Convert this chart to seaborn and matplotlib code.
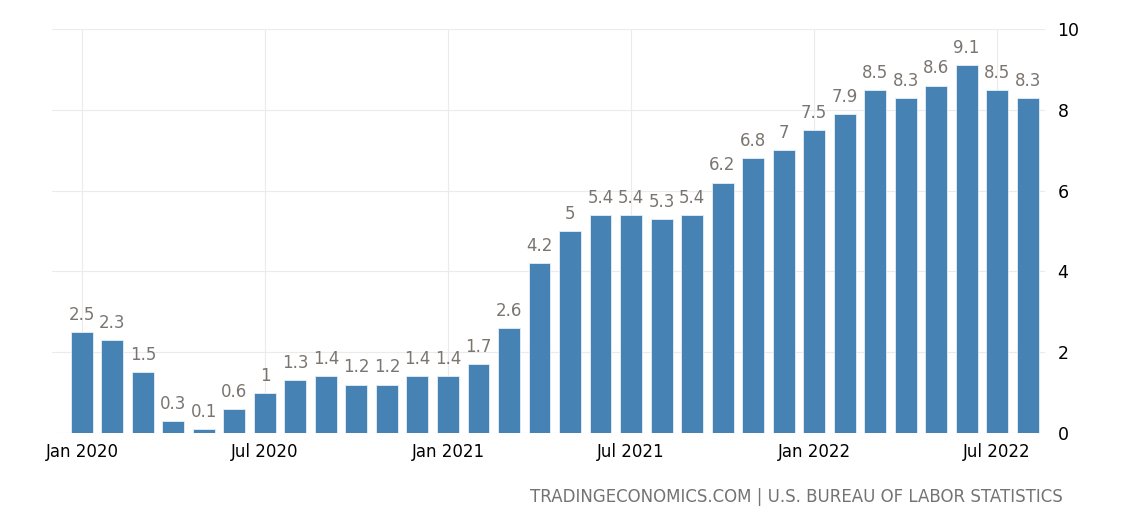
import matplotlib
matplotlib.use("Agg")
import matplotlib.pyplot as plt
import seaborn as sns
import pandas as pd

months = ["Jan 2020", "Feb 2020", "Mar 2020", "Apr 2020", "May 2020", "Jun 2020",
          "Jul 2020", "Aug 2020", "Sep 2020", "Oct 2020", "Nov 2020", "Dec 2020",
          "Jan 2021", "Feb 2021", "Mar 2021", "Apr 2021", "May 2021", "Jun 2021",
          "Jul 2021", "Aug 2021", "Sep 2021", "Oct 2021", "Nov 2021", "Dec 2021",
          "Jan 2022", "Feb 2022", "Mar 2022", "Apr 2022", "May 2022", "Jun 2022",
          "Jul 2022", "Aug 2022"]
values = [2.5, 2.3, 1.5, 0.3, 0.1, 0.6, 1, 1.3, 1.4, 1.2, 1.2, 1.4,
          1.4, 1.7, 2.6, 4.2, 5, 5.4, 5.4, 5.3, 5.4, 6.2, 6.8, 7,
          7.5, 7.9, 8.5, 8.3, 8.6, 9.1, 8.5, 8.3]
tick_labels = ["Jan 2020", "Jul 2020", "Jan 2021", "Jul 2021", "Jan 2022", "Jul 2022"]
y_ticks = [0, 2, 4, 6, 8, 10]
footer = "TRADINGECONOMICS.COM | U.S. BUREAU OF LABOR STATISTICS"

df = pd.DataFrame({"month": months, "value": values})

sns.set_style("white")
plt.rcParams["font.family"] = ["DejaVu Sans"]

fig = plt.figure(figsize=(11.35, 5.28), dpi=100)
ax = fig.add_axes([52 / 1135, 1 - 433 / 528, (1045 - 52) / 1135, (433 - 29) / 528])

sns.barplot(data=df, x="month", y="value", color="#4682b4", saturation=1,
            width=0.72, ax=ax, zorder=3, edgecolor="#e8eef5", linewidth=0.6)

for i, v in enumerate(values):
    ax.text(i, v + 0.2, f"{v:g}", ha="center", va="bottom", fontsize=12,
            color="#7a7570", zorder=4)

ax.set_xlim(-0.98, 31.57)
ax.set_ylim(0, 10)
tick_pos = [months.index(t) for t in tick_labels]
ax.set_xticks(tick_pos)
ax.set_xticklabels(tick_labels, fontsize=12, color="#000000")
ax.set_yticks(y_ticks)
ax.set_yticklabels([str(t) for t in y_ticks], fontsize=12.5, color="#000000")
ax.yaxis.tick_right()
ax.tick_params(axis="y", length=0, pad=9)
ax.tick_params(axis="x", length=0, pad=7)
ax.set_xlabel("")
ax.set_ylabel("")
ax.grid(True, color="#ebebeb", linewidth=0.8, zorder=0)
for s in ax.spines.values():
    s.set_visible(False)

fig.text(1063 / 1135, 1 - 497 / 528, footer, ha="right", va="center",
         fontsize=12, color="#737373")

fig.savefig("out.png", dpi=100)
